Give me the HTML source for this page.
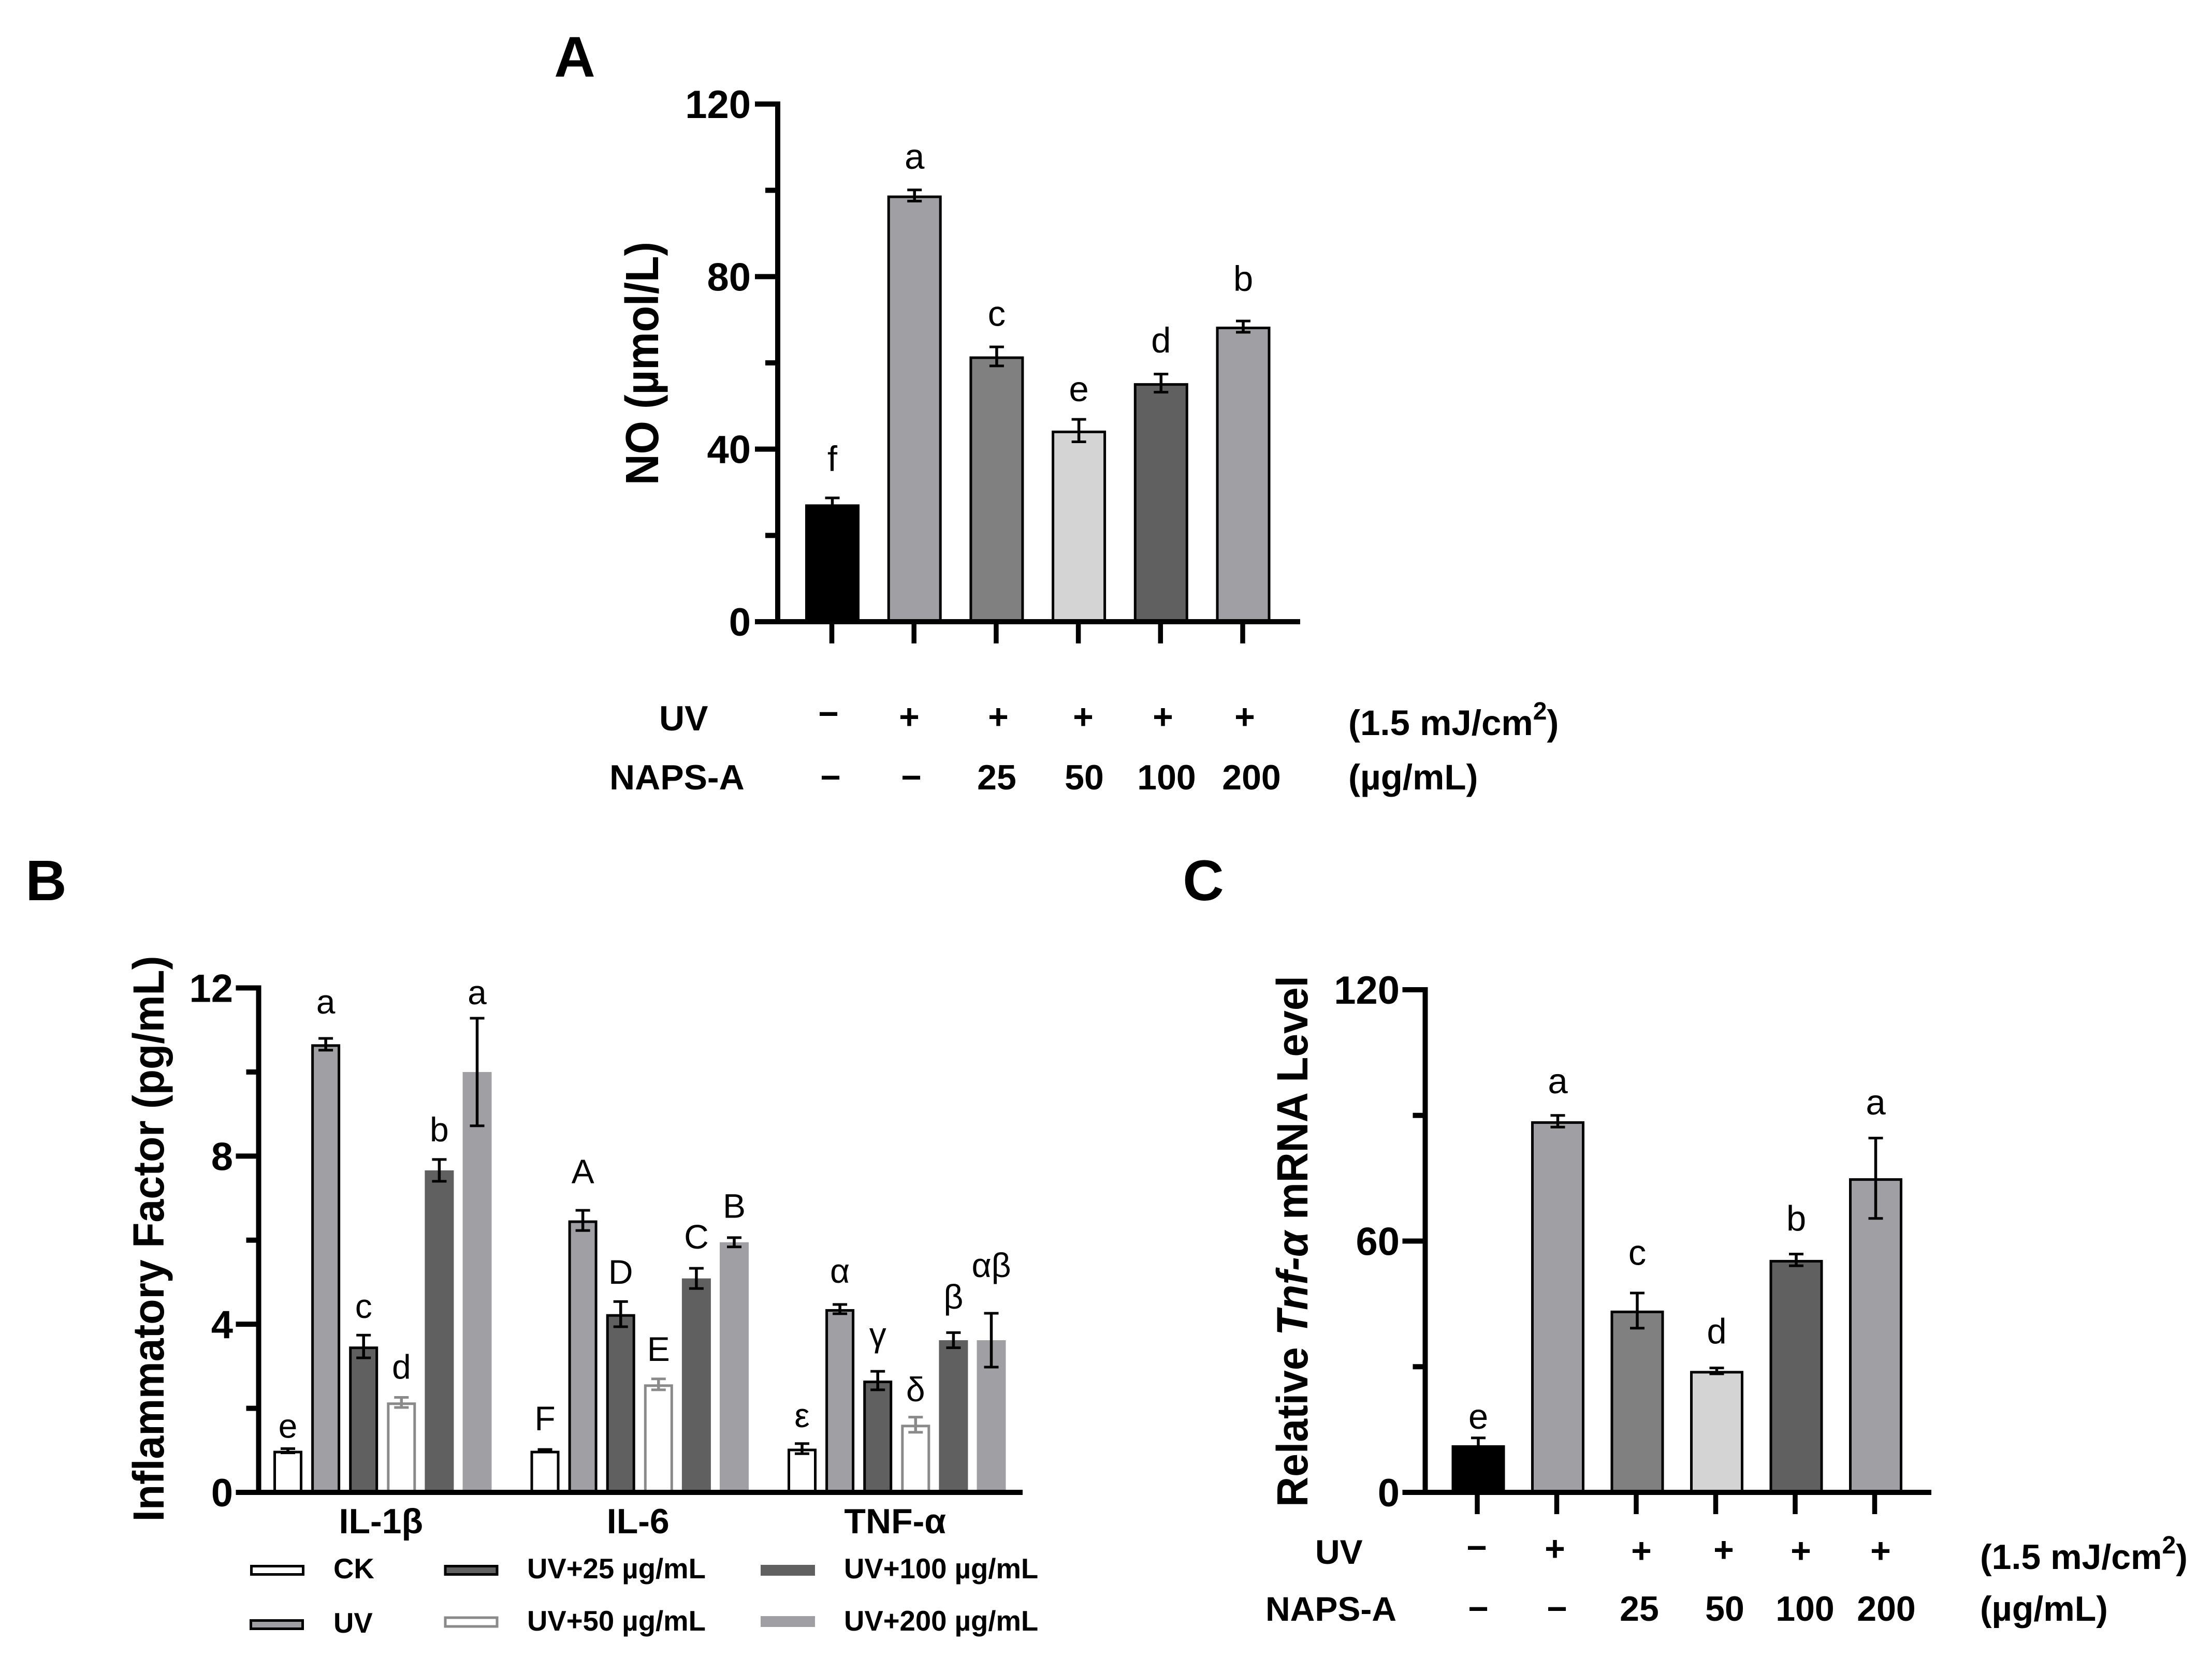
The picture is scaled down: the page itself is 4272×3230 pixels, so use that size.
<!DOCTYPE html>
<html lang="en">
<head>
<meta charset="utf-8">
<title>NAPS-A effects on NO, inflammatory factors and Tnf-α expression</title>
<style>
html,body{margin:0;padding:0;background:#fff;}
svg{display:block;}
text{font-family:"Liberation Sans",Arial,sans-serif;fill:#000;}
.tick{font-weight:700;font-size:76px;text-anchor:end;}
.row{font-weight:700;font-size:68px;}
.row66{font-weight:700;font-size:66px;}
.unit{font-weight:700;font-size:69px;}
.mid{text-anchor:middle;}
.leg{font-weight:700;font-size:54.5px;}
.panel{font-weight:700;font-size:110px;text-anchor:middle;}
.title{font-weight:700;text-anchor:middle;}
.sig{text-anchor:middle;}
.cat{font-weight:700;font-size:68px;text-anchor:middle;}
</style>
</head>
<body>
<svg id="figure" xmlns="http://www.w3.org/2000/svg" width="4272" height="3230" viewBox="0 0 4272 3230">
<rect width="4272" height="3230" fill="#ffffff"/>

<text class="panel" x="1110" y="148">A</text>
<text class="panel" x="89" y="1739">B</text>
<text class="panel" x="2324" y="1739">C</text>

<text class="title" font-size="90" textLength="470" lengthAdjust="spacingAndGlyphs" transform="translate(1271 702) rotate(-90)">NO (µmol/L)</text>
<text class="title" font-size="84" textLength="1093" lengthAdjust="spacingAndGlyphs" transform="translate(316 2393) rotate(-90)">Inflammatory Factor (pg/mL)</text>
<text class="title" font-size="84" textLength="1026" lengthAdjust="spacingAndGlyphs" transform="translate(2525 2398) rotate(-90)">Relative  <tspan font-style="italic">Tnf-α</tspan> mRNA Level</text>

<!-- Panel A treatment table -->
<g>
<text class="row" x="1273" y="1411">UV</text>
<text class="row" x="1177" y="1525">NAPS-A</text>
<text class="row mid" x="1600" y="1402">−</text>
<text class="row mid" x="1756" y="1408">+</text>
<text class="row mid" x="1928" y="1408">+</text>
<text class="row mid" x="2092" y="1408">+</text>
<text class="row mid" x="2246" y="1408">+</text>
<text class="row mid" x="2404" y="1408">+</text>
<text class="row mid" x="1604" y="1525">−</text>
<text class="row mid" x="1760" y="1525">−</text>
<text class="row mid" x="1925" y="1525">25</text>
<text class="row mid" x="2094" y="1525">50</text>
<text class="row mid" x="2253" y="1525">100</text>
<text class="row mid" x="2417" y="1525">200</text>
<text class="unit" x="2604" y="1420">(1.5 mJ/cm<tspan font-size="48" dy="-30">2</tspan><tspan dy="30">)</tspan></text>
<text class="unit" x="2604" y="1525">(µg/mL)</text>
</g>

<!-- Panel C treatment table -->
<g>
<text class="row66" x="2540" y="3021">UV</text>
<text class="row66" x="2444" y="3131">NAPS-A</text>
<text class="row mid" x="2852" y="3013">−</text>
<text class="row mid" x="3003" y="3015">+</text>
<text class="row mid" x="3170" y="3019">+</text>
<text class="row mid" x="3329" y="3017">+</text>
<text class="row mid" x="3478" y="3019">+</text>
<text class="row mid" x="3632" y="3019">+</text>
<text class="row mid" x="2855" y="3131">−</text>
<text class="row mid" x="3007" y="3131">−</text>
<text class="row mid" x="3166" y="3131">25</text>
<text class="row mid" x="3331" y="3131">50</text>
<text class="row mid" x="3486" y="3131">100</text>
<text class="row mid" x="3643" y="3131">200</text>
<text class="row" x="3824" y="3031">(1.5 mJ/cm<tspan font-size="48" dy="-30">2</tspan><tspan dy="30">)</tspan></text>
<text class="row" x="3824" y="3131">(µg/mL)</text>
</g>

<!-- Panel B legend -->
<g>
<g>
<rect x="485.5" y="3025.5" width="100" height="16" fill="#ffffff" stroke="#000" stroke-width="5"/>
<text class="leg" x="644" y="3049">CK</text>
</g>
<g>
<rect x="484.5" y="3130.5" width="100" height="16" fill="#a0a0a4" stroke="#000" stroke-width="5"/>
<text class="leg" x="644" y="3154">UV</text>
</g>
<g>
<rect x="860" y="3025.5" width="100" height="16" fill="#606060" stroke="#000" stroke-width="5"/>
<text class="leg" x="1018" y="3049">UV+25 µg/mL</text>
</g>
<g>
<rect x="860" y="3125" width="100" height="17" fill="#ffffff" stroke="#8a8a8a" stroke-width="5"/>
<text class="leg" x="1018" y="3150">UV+50 µg/mL</text>
</g>
<g>
<rect x="1469" y="3023" width="105" height="21" fill="#606060"/>
<text class="leg" x="1630" y="3049">UV+100 µg/mL</text>
</g>
<g>
<rect x="1469" y="3122" width="105" height="21" fill="#a0a0a4"/>
<text class="leg" x="1630" y="3150">UV+200 µg/mL</text>
</g>
</g>
<g id="plots"></g>
</svg>

<script>
/* ---------- Panel A data ---------- */
const noGroups = ['CK', 'UV', 'UV+25', 'UV+50', 'UV+100', 'UV+200'];
const noValues = [27.2, 98.8, 61.5, 44.3, 55.3, 68.4];
const noErrors = [1.5, 1.3, 2.2, 2.6, 2.1, 1.3];
const noLetters = ['f', 'a', 'c', 'e', 'd', 'b'];
const noLetterLift = [6.2, 4.9, 4.9, 4.2, 5.0, 7.0];
const noTickLabels = ['0', '40', '80', '120'];
const noTickValues = [0, 40, 80, 120];
const noMinorTicks = [20, 60, 100];

/* ---------- Panel B data ---------- */
const factorGroups = ['IL-1β', 'IL-6', 'TNF-α'];
const factorSeries = ['CK', 'UV', 'UV+25', 'UV+50', 'UV+100', 'UV+200'];
const il1bValues = [0.99, 10.66, 3.47, 2.14, 7.66, 10.0];
const il1bErrors = [0.05, 0.14, 0.27, 0.12, 0.26, 1.28];
const il1bLetters = ['e', 'a', 'c', 'd', 'b', 'a'];
const il1bLetterLift = [0.26, 0.59, 0.41, 0.44, 0.43, 0.33];
const il6Values = [0.99, 6.47, 4.24, 2.57, 5.09, 5.95];
const il6Errors = [0.03, 0.24, 0.30, 0.13, 0.24, 0.11];
const il6Letters = ['F', 'A', 'D', 'E', 'C', 'B'];
const il6LetterLift = [0.46, 0.64, 0.42, 0.43, 0.47, 0.47];
const tnfValues = [1.04, 4.36, 2.66, 1.61, 3.62, 3.62];
const tnfErrors = [0.12, 0.11, 0.22, 0.18, 0.18, 0.64];
const tnfLetters = ['ε', 'α', 'γ', 'δ', 'β', 'αβ'];
const tnfLetterLift = [0.39, 0.52, 0.59, 0.38, 0.57, 0.86];
const factorTickLabels = ['0', '4', '8', '12'];
const factorTickValues = [0, 4, 8, 12];
const factorMinorTicks = [2, 6, 10];

/* ---------- Panel C data ---------- */
const mrnaGroups = ['CK', 'UV', 'UV+25', 'UV+50', 'UV+100', 'UV+200'];
const mrnaValues = [11.25, 88.6, 43.4, 29.0, 55.5, 75.0];
const mrnaErrors = [1.75, 1.4, 4.2, 0.7, 1.4, 9.6];
const mrnaLetters = ['e', 'a', 'c', 'd', 'b', 'a'];
const mrnaLetterLift = [2.2, 5.3, 6.7, 5.8, 5.6, 5.6];
const mrnaTickLabels = ['0', '60', '120'];
const mrnaTickValues = [0, 60, 120];
const mrnaMinorTicks = [30, 90];

/* ---------- Styles (not data) ---------- */
const solidStyles = [
  {fill: '#000000', stroke: '#000000', err: '#000000'},
  {fill: '#a0a0a4', stroke: '#000000', err: '#000000'},
  {fill: '#808080', stroke: '#000000', err: '#000000'},
  {fill: '#d4d4d4', stroke: '#000000', err: '#000000'},
  {fill: '#606060', stroke: '#000000', err: '#000000'},
  {fill: '#a0a0a4', stroke: '#000000', err: '#000000'}
];
const factorStyles = [
  {fill: '#ffffff', stroke: '#000000', err: '#000000'},
  {fill: '#a0a0a4', stroke: '#000000', err: '#000000'},
  {fill: '#606060', stroke: '#000000', err: '#000000'},
  {fill: '#ffffff', stroke: '#8a8a8a', err: '#8a8a8a'},
  {fill: '#606060', stroke: 'none', err: '#000000'},
  {fill: '#a0a0a4', stroke: 'none', err: '#000000'}
];

/* ---------- Axis functions ---------- */
const yA = v => 1201 - v * (1000 / 120);
const xA = i => 1607.5 + 158.7 * i;
const yB = v => 2883 - v * (974.5 / 12);
const xB = (g, i) => 556 + 496.5 * g + 73.1 * i;
const yC = v => 2883 - v * (971 / 120);
const xC = i => 2855 + 153.5 * i;

const NS = 'http://www.w3.org/2000/svg';
const plots = document.getElementById('plots');
function mk(tag, attrs, parent, txt) {
  const el = document.createElementNS(NS, tag);
  for (const k in attrs) el.setAttribute(k, attrs[k]);
  if (txt !== undefined) el.textContent = txt;
  parent.appendChild(el);
  return el;
}

function drawBar(parent, cx, w, sw, v, e, letter, lift, style, y, key, fontSize) {
  const top = y(v), base = y(0);
  const inset = style.stroke === 'none' ? 0 : sw / 2;
  const bar = mk('rect', {x: cx - w / 2 + inset, y: top + inset, width: w - 2 * inset, height: base - top - inset,
    fill: style.fill, stroke: style.stroke, 'stroke-width': sw}, parent);
  
  

  const eg = mk('g', {stroke: style.err, fill: 'none'}, parent);
  
  
  mk('line', {x1: cx, x2: cx, y1: y(v + e), y2: y(v - e), 'stroke-width': 5.5}, eg);
  mk('line', {x1: cx - 14, x2: cx + 14, y1: y(v + e), y2: y(v + e), 'stroke-width': 5}, eg);
  mk('line', {x1: cx - 14, x2: cx + 14, y1: y(v - e), y2: y(v - e), 'stroke-width': 5}, eg);

  const t = mk('text', {class: 'sig', x: cx, y: y(v + e + lift), style: 'font-size:' + fontSize + 'px'}, parent, letter);
  
  
}

function drawAxes(parent, id, y, axisX, xEnd, majorVals, majorLabels, minorVals, labelX) {
  const yAxis = mk('line', {x1: axisX, x2: axisX, y1: y(majorVals[majorVals.length - 1]) - 5, y2: y(0) + 5, stroke: '#000', 'stroke-width': 10}, parent);
  
  
  const xAxis = mk('line', {x1: axisX - 44, x2: xEnd, y1: y(0), y2: y(0), stroke: '#000', 'stroke-width': 10}, parent);
  
  
  majorVals.forEach((v, i) => {
    const tick = mk('line', {x1: axisX - 44, x2: axisX, y1: y(v), y2: y(v), stroke: '#000', 'stroke-width': 10}, parent);
    
    
    const lab = mk('text', {class: 'tick', x: labelX, y: y(v) + 27}, parent, majorLabels[i]);
    
    
  });
  minorVals.forEach(v => {
    const tick = mk('line', {x1: axisX - 24, x2: axisX, y1: y(v), y2: y(v), stroke: '#000', 'stroke-width': 10}, parent);
    
    
  });
}

/* Panel A */
const gA = mk('g', {}, plots);


noValues.forEach((v, i) => {
  drawBar(gA, xA(i), 105, 5, v, noErrors[i], noLetters[i], noLetterLift[i], solidStyles[i], yA, 'a-' + noGroups[i].toLowerCase().replace('+', '-'), 69);
  const t = mk('line', {x1: xA(i) - 1, x2: xA(i) - 1, y1: yA(0), y2: 1243, stroke: '#000', 'stroke-width': 9.5}, gA);
  
  
});
drawAxes(gA, 'a', yA, 1502, 2511, noTickValues, noTickLabels, noMinorTicks, 1450);

/* Panel B */
const gB = mk('g', {}, plots);


const factorValues = [il1bValues, il6Values, tnfValues];
const factorErrors = [il1bErrors, il6Errors, tnfErrors];
const factorLetters = [il1bLetters, il6Letters, tnfLetters];
const factorLift = [il1bLetterLift, il6LetterLift, tnfLetterLift];
factorGroups.forEach((name, g) => {
  factorValues[g].forEach((v, i) => {
    const key = 'b-' + name.toLowerCase() + '-' + factorSeries[i].toLowerCase().replace('+', '-');
    drawBar(gB, xB(g, i), 56, 5, v, factorErrors[g][i], factorLetters[g][i], factorLift[g][i], factorStyles[i], yB, key, 66);
  });
  const lab = mk('text', {class: 'cat', x: xB(g, 2.5) - 3, y: 2962}, gB, name);
  
  
});
drawAxes(gB, 'b', yB, 499.5, 1975, factorTickValues, factorTickLabels, factorMinorTicks, 450);

/* Panel C */
const gC = mk('g', {}, plots);


mrnaValues.forEach((v, i) => {
  drawBar(gC, xC(i), 103, 5, v, mrnaErrors[i], mrnaLetters[i], mrnaLetterLift[i], solidStyles[i], yC, 'c-' + mrnaGroups[i].toLowerCase().replace('+', '-'), 69);
  const t = mk('line', {x1: xC(i) - 2, x2: xC(i) - 2, y1: yC(0), y2: 2925, stroke: '#000', 'stroke-width': 9.5}, gC);
  
  
});
drawAxes(gC, 'c', yC, 2752.5, 3730, mrnaTickValues, mrnaTickLabels, mrnaMinorTicks, 2703);
</script>
</body>
</html>
